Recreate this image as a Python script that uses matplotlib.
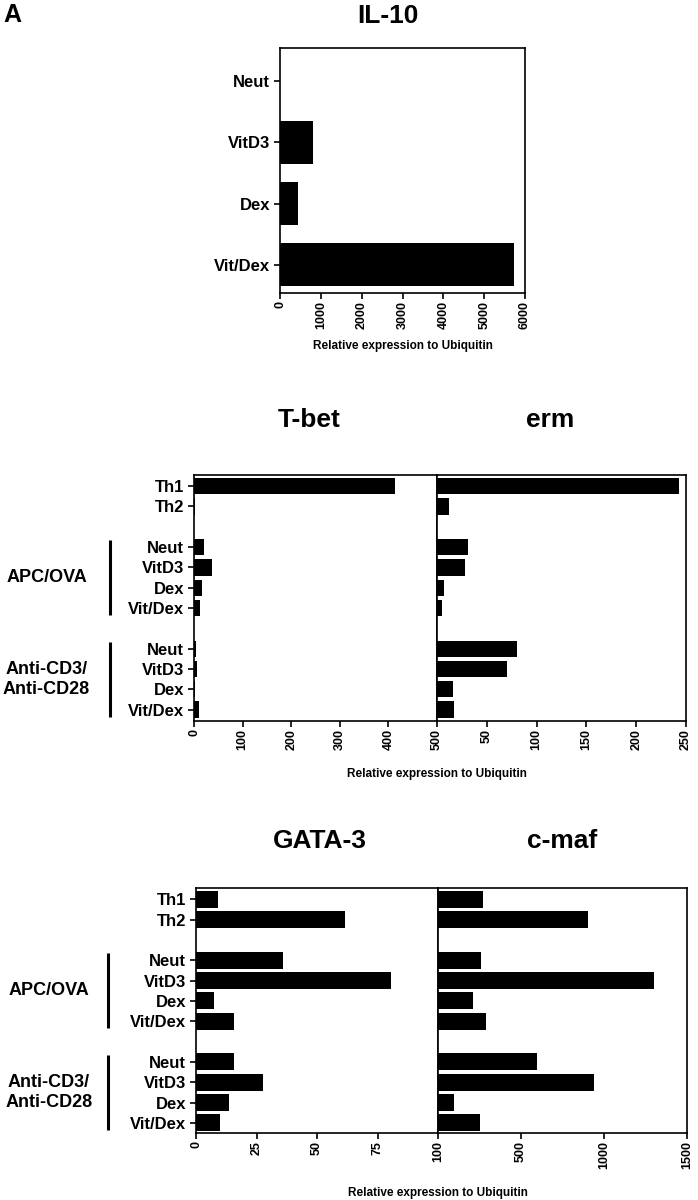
import matplotlib.pyplot as plt

plt.rcParams['font.family'] = ['Liberation Sans', 'DejaVu Sans']
plt.rcParams['font.weight'] = 'bold'
plt.rcParams['axes.linewidth'] = 1.2

# ---- data ----
il10_labels = ['Neut', 'VitD3', 'Dex', 'Vit/Dex']
il10_values = [0, 815, 435, 5730]

th_labels = ['Th1', 'Th2']
treat_labels = ['Neut', 'VitD3', 'Dex', 'Vit/Dex']
group_names = ['APC/OVA', 'Anti-CD3/\nAnti-CD28']

tbet_values = [414, 2, 20, 37, 16, 12, 4, 7, 3, 10]
erm_values = [243, 12, 31, 28.5, 6.7, 5.3, 80, 70, 16.5, 17.3]
gata3_values = [9.1, 61.5, 36, 80.7, 7.6, 15.5, 15.7, 27.5, 13.8, 9.9]
cmaf_values = [273, 903, 260, 1304, 209, 287, 595, 937, 96, 254]

# rows: Th1, Th2, gap, APC/OVA x4, gap, Anti-CD3/CD28 x4
row_labels = th_labels + treat_labels + treat_labels
row_pos = list(range(len(th_labels)))
start = len(th_labels) + 1
group_rows = []
for g in group_names:
    rows = list(range(start, start + len(treat_labels)))
    group_rows.append(rows)
    row_pos += rows
    start += len(treat_labels) + 1

W, H = 698, 1200
fig = plt.figure(figsize=(W / 100, H / 100), dpi=100)


def px_axes(x0, x1, y0, y1):
    return fig.add_axes([x0 / W, 1 - y1 / H, (x1 - x0) / W, (y1 - y0) / H])


def style(ax):
    ax.tick_params(axis='x', labelrotation=90, labelsize=9, length=4, width=1.2, pad=2)
    ax.tick_params(axis='y', labelsize=12, length=4, width=1.2, pad=3)
    for lab in ax.get_xticklabels():
        lab.set_fontweight('bold')


fig.text(3 / W, 1 - 3 / H, 'A', fontsize=18, fontweight='bold', va='top', ha='left')

# ---- IL-10 ----
ax = px_axes(280, 525, 48, 293)
ax.barh(range(len(il10_labels)), il10_values, height=0.7, color='black')
ax.set_ylim(3.46, -0.54)
ax.set_xlim(0, 6000)
ax.set_xticks(range(0, 6001, 1000))
ax.set_yticks(range(len(il10_labels)))
ax.set_yticklabels(il10_labels)
style(ax)
ax.set_title('IL-10', fontsize=19, fontweight='bold', x=0.44, y=(293 - 23) / 245, pad=0)
ax.set_xlabel('Relative expression to Ubiquitin', fontsize=8.5, fontweight='bold')
ax.xaxis.set_label_coords(0.5, -0.19)


def pair(y0, y1, left_vals, right_vals, left_lim, right_lim, left_ticks, right_ticks,
         left_title, right_title, title_y, tx_left, tx_right, bar_h, ylim, label_y,
         split, xl, xr, line_x):
    axl = px_axes(xl, split, y0, y1)
    axr = px_axes(split, xr, y0, y1)
    axl.barh(row_pos, left_vals, height=bar_h, color='black')
    axr.barh(row_pos, right_vals, height=bar_h, color='black')
    for a in (axl, axr):
        a.set_ylim(*ylim)
    axl.set_xlim(*left_lim)
    axr.set_xlim(*right_lim)
    axl.set_xticks(left_ticks)
    axr.set_xticks(right_ticks)
    axl.set_yticks(row_pos)
    axl.set_yticklabels(row_labels)
    axr.set_yticks([])
    style(axl)
    style(axr)
    axl.set_title(left_title, fontsize=19, fontweight='bold', x=tx_left, y=title_y, pad=0)
    axr.set_title(right_title, fontsize=19, fontweight='bold', x=tx_right, y=title_y, pad=0)
    axl.set_xlabel('Relative expression to Ubiquitin', fontsize=8.5, fontweight='bold')
    axl.xaxis.set_label_coords(1.0, label_y)
    # group brackets and labels
    tr = axl.get_yaxis_transform()
    for name, rows in zip(group_names, group_rows):
        lo, hi = rows[0] - 0.35, rows[-1] + 0.35
        axl.plot([line_x, line_x], [lo, hi], color='black', lw=2.2,
                 transform=tr, clip_on=False, solid_capstyle='butt')
        axl.text(-0.607, (rows[0] + rows[-1]) / 2, name, transform=tr, fontsize=13,
                 fontweight='bold', ha='center', va='center', linespacing=1.25)
    return axl, axr


# ---- T-bet / erm ----
pair(475, 721, tbet_values, erm_values, (0, 500), (0, 250),
     range(0, 501, 100), range(50, 251, 50), 'T-bet', 'erm',
     (721 - 427) / 246, 0.473, 0.454, 0.8, (11.56, -0.55), -0.19,
     437, 194, 686, -0.346)

# ---- GATA-3 / c-maf ----
pair(888, 1133, gata3_values, cmaf_values, (0, 100), (0, 1500),
     range(0, 101, 25), range(500, 1501, 500), 'GATA-3', 'c-maf',
     (1133 - 848) / 245, 0.51, 0.5, 0.85, (11.5, -0.55), -0.22,
     438, 196, 687, -0.364)

fig.savefig('out.png', dpi=100)
